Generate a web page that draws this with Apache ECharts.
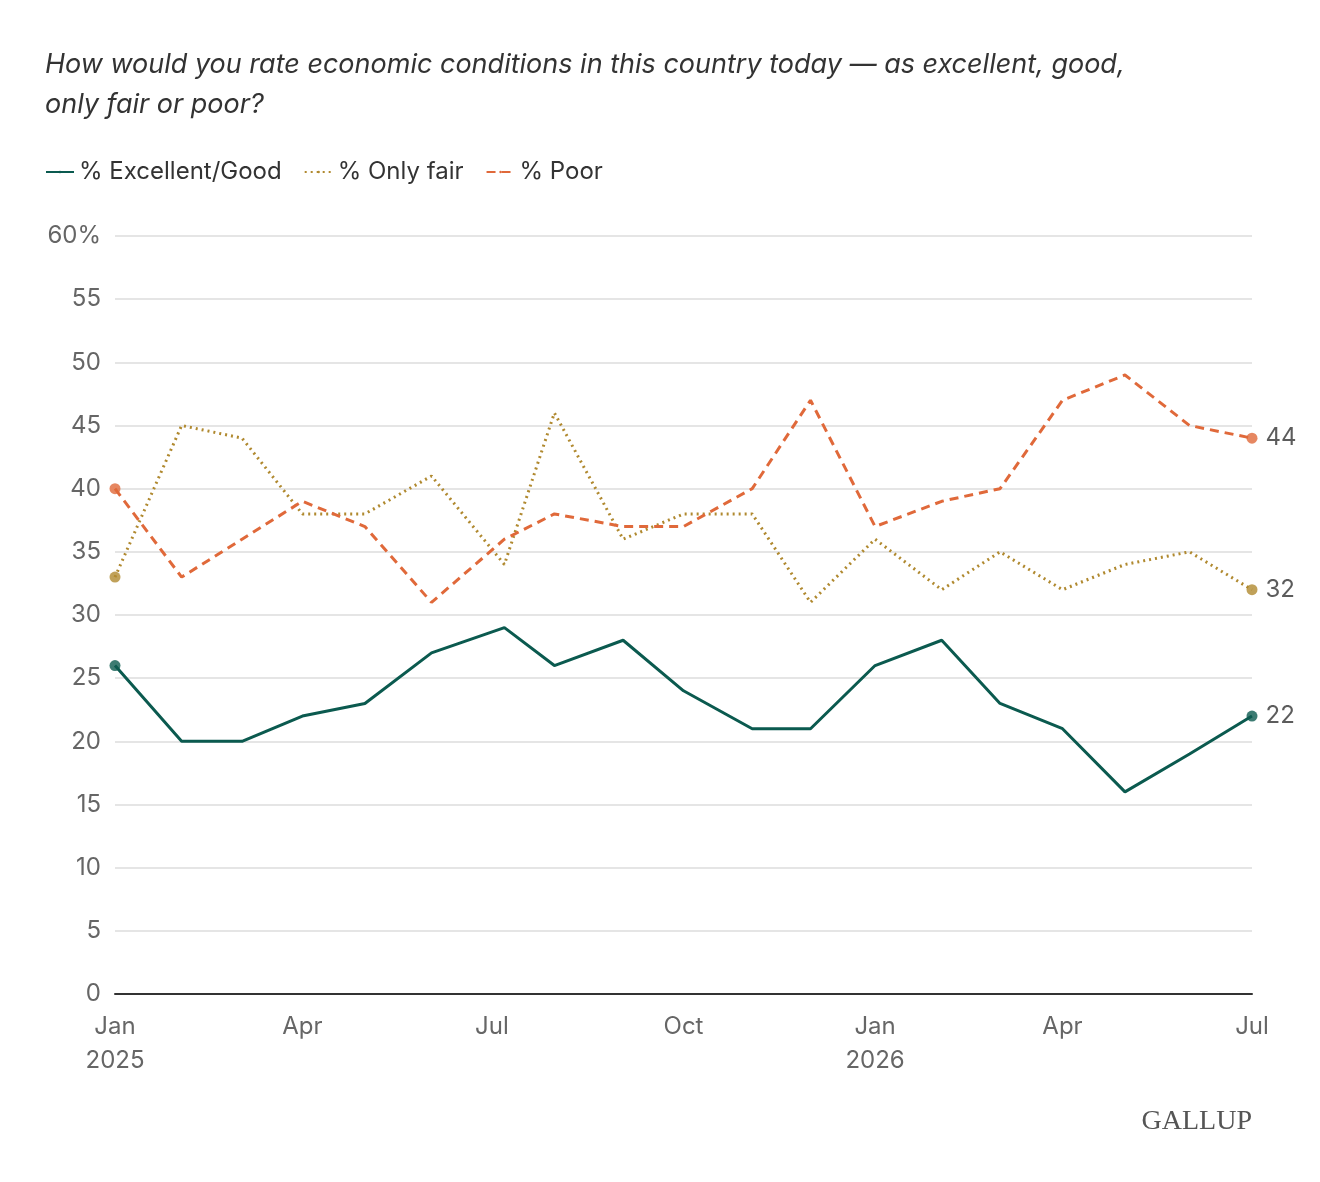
<!DOCTYPE html>
<html>
<head>
<meta charset="utf-8">
<script src="https://cdn.jsdelivr.net/npm/echarts@6/dist/echarts.min.js"></script>
<style>
body { margin: 0; background: #fff; }
#chart { width: 1320px; height: 1182px; }
</style>
</head>
<body>
<div id="chart"></div>
<script>
var dates = ['2025-01-01', '2025-02-02', '2025-03-03', '2025-04-01', '2025-05-01', '2025-06-02', '2025-07-07', '2025-07-31', '2025-09-02', '2025-10-01', '2025-11-03', '2025-12-01', '2026-01-01', '2026-02-02', '2026-03-02', '2026-04-01', '2026-05-01', '2026-06-01', '2026-07-01'];
var excellentGood = [26, 20, 20, 22, 23, 27, 29, 26, 28, 24, 21, 21, 26, 28, 23, 21, 16, 19, 22];
var onlyFair = [33, 45, 44, 38, 38, 41, 34, 46, 36, 38, 38, 31, 36, 32, 35, 32, 34, 35, 32];
var poor = [40, 33, 36, 39, 37, 31, 36, 38, 37, 37, 40, 47, 37, 39, 40, 47, 49, 45, 44];
var tickDates = ['2025-01-01', '2025-04-01', '2025-07-01', '2025-10-01', '2026-01-01', '2026-04-01', '2026-07-01'];

var colors = { eg: '#0b5a4f', fair: '#b0892f', poor: '#e0693a' };
var months = ['Jan','Feb','Mar','Apr','May','Jun','Jul','Aug','Sep','Oct','Nov','Dec'];

function ts(d) { return Date.UTC(+d.slice(0, 4), +d.slice(5, 7) - 1, +d.slice(8, 10)); }

function pairs(vals) {
    return vals.map(function (v, i) { return [ts(dates[i]), v]; });
}
function ends(vals) {
    var last = vals.length - 1;
    return [
        { value: [ts(dates[0]), vals[0]], label: { show: false } },
        { value: [ts(dates[last]), vals[last]], label: { show: true } }
    ];
}
function lineSeries(name, vals, color, type) {
    return {
        name: name, type: 'line', data: pairs(vals), symbol: 'none',
        lineStyle: { color: color, width: 3, type: type },
        itemStyle: { color: color }
    };
}
function endSeries(vals, color) {
    return {
        type: 'scatter', data: ends(vals), symbolSize: 11,
        itemStyle: { color: color }, z: 5,
        label: { position: 'right', distance: 8, color: '#333', fontSize: 24, fontFamily: 'Inter', formatter: function (p) { return p.value[1]; } }
    };
}

var chart = echarts.init(document.getElementById('chart'));
chart.setOption({
    animation: false,
    title: {
        text: 'How would you rate economic conditions in this country today \u2014 as excellent, good,\nonly fair or poor?',
        left: 40, top: 40,
        textStyle: { fontFamily: 'Inter', fontStyle: 'italic', fontWeight: 'normal', fontSize: 27, color: '#333', lineHeight: 40 }
    },
    legend: {
        left: 40, top: 155, itemWidth: 28, itemHeight: 3, itemGap: 22,
        textStyle: { fontFamily: 'Inter', fontSize: 24, color: '#333' },
        data: ['% Excellent/Good', '% Only fair', '% Poor']
    },
    grid: { left: 115, right: 68, top: 236, bottom: 188 },
    xAxis: {
        type: 'value',
        min: ts('2025-01-01'), max: ts('2026-07-01'),
        axisLine: { lineStyle: { color: '#333', width: 2 } },
        axisTick: { show: false },
        splitLine: { show: false },
        axisLabel: {
            customValues: tickDates.map(ts),
            fontFamily: 'Inter', fontSize: 24, color: '#666', margin: 16, lineHeight: 34,
            formatter: function (v) {
                var d = new Date(v);
                var m = months[d.getUTCMonth()];
                return d.getUTCMonth() === 0 ? m + '\n' + d.getUTCFullYear() : m;
            }
        }
    },
    yAxis: {
        type: 'value', min: 0, max: 60, interval: 5,
        axisLine: { show: false }, axisTick: { show: false },
        splitLine: { lineStyle: { color: '#ddd', width: 1.5 } },
        axisLabel: {
            fontFamily: 'Inter', fontSize: 24, color: '#666', margin: 14,
            formatter: function (v) { return v === 60 ? v + '%' : v; }
        }
    },
    series: [
        lineSeries('% Excellent/Good', excellentGood, colors.eg, 'solid'),
        lineSeries('% Only fair', onlyFair, colors.fair, [2, 4]),
        lineSeries('% Poor', poor, colors.poor, [9, 6]),
        endSeries(excellentGood, colors.eg),
        endSeries(onlyFair, colors.fair),
        endSeries(poor, colors.poor)
    ],
    graphic: [{
        type: 'text', right: 68, top: 1108,
        style: { text: 'GALLUP', font: '28px "Liberation Serif", serif', fill: '#555' }
    }]
});
</script>
</body>
</html>
